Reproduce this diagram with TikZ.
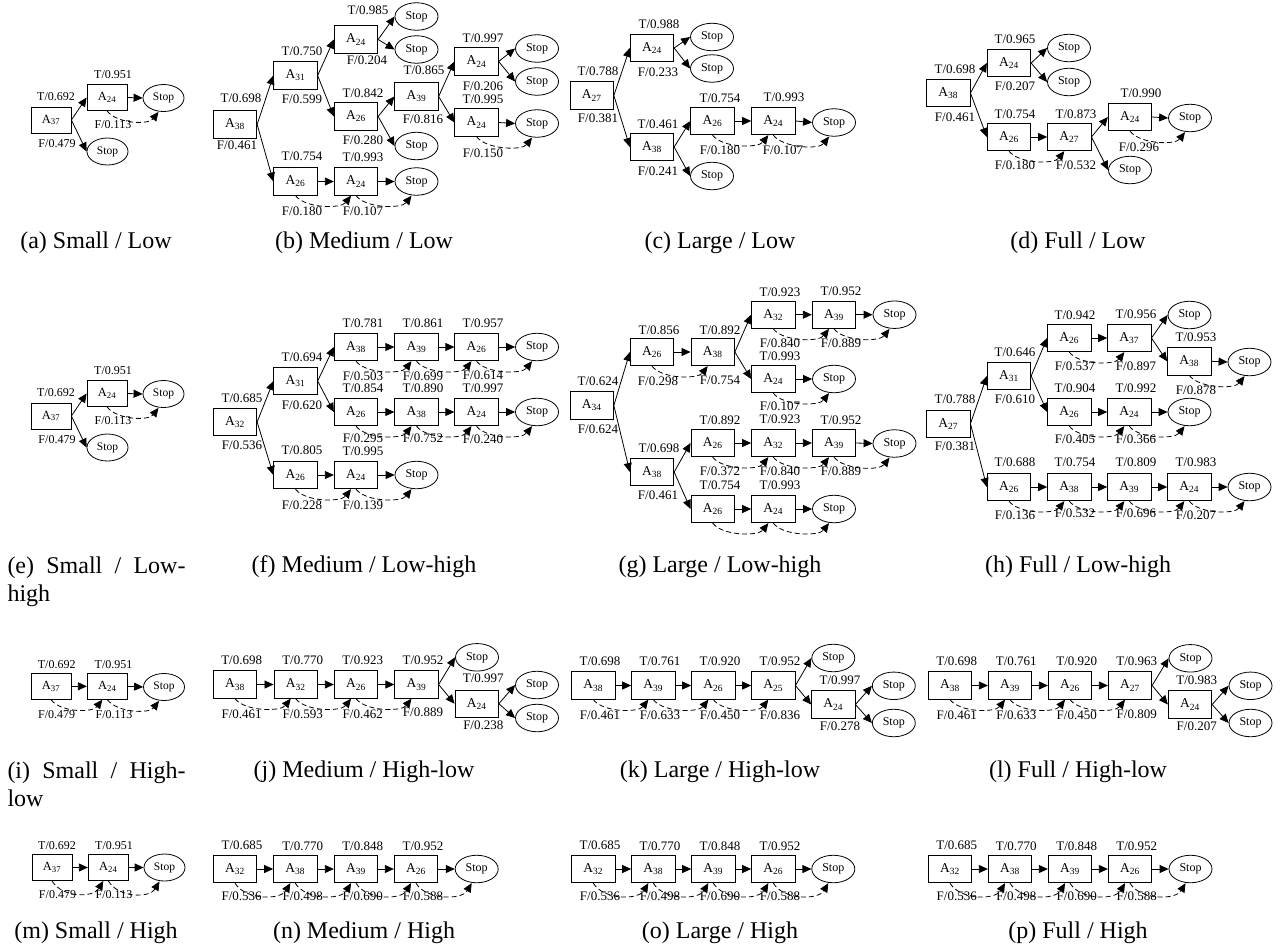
\documentclass[tikz,border=0pt]{standalone}
\usepackage{fontspec}
\setmainfont{Liberation Serif}
\usetikzlibrary{shapes.geometric,arrows.meta,calc}
\newcounter{lbn}
\tikzset{
  bx/.style={draw, line width=0.8pt, minimum width=43.5pt, minimum height=27.5pt, inner sep=0pt, font=\fontsize{13.5}{13.5}\selectfont},
  bxs/.style={bx, minimum width=40pt, minimum height=26pt, font=\fontsize{12.5}{12.5}\selectfont},
  st/.style={draw, ellipse, line width=0.8pt, minimum width=43pt, minimum height=27.5pt, inner sep=0pt, font=\fontsize{12}{12}\selectfont},
  sts/.style={st, minimum width=41pt, minimum height=27pt, font=\fontsize{11.5}{11.5}\selectfont},
  lb/.style={inner sep=0pt, font=\fontsize{13}{13}\selectfont},
  lbs/.style={inner sep=0pt, font=\fontsize{12}{12}\selectfont},
  ar/.style={-{Triangle[length=9pt,width=8pt]}, line width=0.8pt},
  fa/.style={ar, dash pattern=on 5pt off 3pt},
  captxt/.style={inner sep=0pt, font=\fontsize{24}{26}\selectfont},
}
\newcommand\LB[2]{\stepcounter{lbn}\node[lb] (lab\arabic{lbn}) at (#1) {#2};}
\newcommand\LBs[2]{\stepcounter{lbn}\node[lbs] (lab\arabic{lbn}) at (#1) {#2};}
\newcommand\A[1]{A\textsubscript{#1}}
\newcommand\E[2]{\draw[ar] (#1.east) -- (#2.west);}
\newcommand\D[2]{\draw[fa] (#1.south) .. controls +(10,13) and +(-10,13) .. ([xshift=-5pt]#2.south);}
\newcommand\DD[2]{\draw[fa] (#1.south) .. controls +(10,17) and +(-10,17) .. ([xshift=-5pt]#2.south);}
\begin{document}
\begin{tikzpicture}[x=1pt,y=-1pt]
\useasboundingbox (0,0) rectangle (1284,951);
% ---------- (a)
\node[bxs] (a1) at (51,120) {\A{37}};
\node[bxs] (a2) at (107,97.5) {\A{24}};
\node[sts] (a3) at (163.5,98) {Stop};
\node[sts] (a4) at (107.5,151.5) {Stop};
\E{a1}{a2} \E{a1}{a4} \E{a2}{a3} \D{a2}{a3}
\LBs{56,97}{T/0.692} \LBs{113,75}{T/0.951} \LBs{113,125}{F/0.113} \LBs{57,144}{F/0.479}
% ---------- (b)
\node[bx] (b1) at (235,124.5) {\A{38}};
\node[bx] (b2) at (295.5,75.5) {\A{31}};
\node[bx] (b3) at (356,39.5) {\A{24}};
\node[st] (b4) at (416.5,16.5) {Stop};
\node[st] (b5) at (416.5,49.5) {Stop};
\node[bx] (b6) at (356,116.5) {\A{26}};
\node[bx] (b7) at (416.5,96.5) {\A{39}};
\node[st] (b8) at (416.5,146) {Stop};
\node[bx] (b9) at (476.5,61.5) {\A{24}};
\node[st] (b10) at (537,48.5) {Stop};
\node[st] (b11) at (537,81.5) {Stop};
\node[bx] (b12) at (476.5,122.5) {\A{24}};
\node[st] (b13) at (537,123.5) {Stop};
\node[bx] (b14) at (295.5,181.5) {\A{26}};
\node[bx] (b15) at (356,181.5) {\A{24}};
\node[st] (b16) at (416.5,181.5) {Stop};
\E{b1}{b2} \E{b1}{b14} \E{b2}{b3} \E{b2}{b6} \E{b3}{b4} \E{b3}{b5}
\E{b6}{b7} \E{b6}{b8} \E{b7}{b9} \E{b7}{b12} \E{b9}{b10} \E{b9}{b11}
\E{b12}{b13} \D{b12}{b13} \E{b14}{b15} \D{b14}{b15} \E{b15}{b16} \D{b15}{b16}
\LB{241,98}{T/0.698} \LB{237,145}{F/0.461} \LB{302,51}{T/0.750} \LB{302,99}{F/0.599}
\LB{368,10}{T/0.985} \LB{367,60}{F/0.204} \LB{363,93}{T/0.842} \LB{363,140}{F/0.280}
\LB{424,70}{T/0.865} \LB{423,119}{F/0.816} \LB{483,38}{T/0.997} \LB{483,86}{F/0.206}
\LB{483,99}{T/0.995} \LB{483,153}{F/0.150} \LB{302,156}{T/0.754} \LB{363,157}{T/0.993}
\LB{302,211}{F/0.180} \LB{363,211}{F/0.107}
% ---------- (c)
\node[bx] (c1) at (591.7,95.5) {\A{27}};
\node[bx] (c2) at (652,48) {\A{24}};
\node[st] (c3) at (712,37) {Stop};
\node[st] (c4) at (712,68.5) {Stop};
\node[bx] (c5) at (652,147) {\A{38}};
\node[bx] (c6) at (712.5,121) {\A{26}};
\node[bx] (c7) at (773.3,121) {\A{24}};
\node[st] (c8) at (834,122.5) {Stop};
\node[st] (c9) at (712,176) {Stop};
\E{c1}{c2} \E{c1}{c5} \E{c2}{c3} \E{c2}{c4} \E{c5}{c6} \E{c5}{c9}
\E{c6}{c7} \D{c6}{c7} \E{c7}{c8} \D{c7}{c8}
\LB{659,24}{T/0.988} \LB{658,72}{F/0.233} \LB{598,71}{T/0.788} \LB{598,118}{F/0.381}
\LB{658,124}{T/0.461} \LB{658,171}{F/0.241} \LB{720,98}{T/0.754} \LB{784,97}{T/0.993}
\LB{720,150}{F/0.180} \LB{783,150}{F/0.107}
% ---------- (d)
\node[bx] (d1) at (948.3,93) {\A{38}};
\node[bx] (d2) at (1009,63) {\A{24}};
\node[st] (d3) at (1069,48) {Stop};
\node[st] (d4) at (1069,82) {Stop};
\node[bx] (d5) at (1009,137) {\A{26}};
\node[bx] (d6) at (1069.3,137) {\A{27}};
\node[bx] (d7) at (1130,117) {\A{24}};
\node[st] (d8) at (1190,118) {Stop};
\node[st] (d9) at (1130,170) {Stop};
\E{d1}{d2} \E{d1}{d5} \E{d2}{d3} \E{d2}{d4} \E{d5}{d6} \D{d5}{d6}
\E{d6}{d7} \E{d6}{d9} \E{d7}{d8} \D{d7}{d8}
\LB{1015,39}{T/0.965} \LB{1015,86}{F/0.207} \LB{955,69}{T/0.698} \LB{955,117}{F/0.461}
\LB{1015,114}{T/0.754} \LB{1076,114}{T/0.873} \LB{1141,93}{T/0.990} \LB{1139,147}{F/0.296}
\LB{1015,165}{F/0.180} \LB{1076,165}{F/0.532}
% ---------- (e)
\begin{scope}[shift={(0,296)}]
\node[bxs] (e1) at (51,120) {\A{37}};
\node[bxs] (e2) at (107,97.5) {\A{24}};
\node[sts] (e3) at (163.5,98) {Stop};
\node[sts] (e4) at (107.5,151.5) {Stop};
\E{e1}{e2} \E{e1}{e4} \E{e2}{e3} \D{e2}{e3}
\LBs{56,97}{T/0.692} \LBs{113,75}{T/0.951} \LBs{113,125}{F/0.113} \LBs{57,144}{F/0.479}
\end{scope}
% ---------- (f)
\node[bx] (f1) at (235,422) {\A{32}};
\node[bx] (f2) at (295.5,381) {\A{31}};
\node[bx] (f3) at (356,347) {\A{38}};
\node[bx] (f4) at (416.5,347) {\A{39}};
\node[bx] (f5) at (476.5,347) {\A{26}};
\node[st] (f6) at (537,347) {Stop};
\node[bx] (f7) at (356,412) {\A{26}};
\node[bx] (f8) at (416.5,412) {\A{38}};
\node[bx] (f9) at (476.5,412) {\A{24}};
\node[st] (f10) at (537,412) {Stop};
\node[bx] (f11) at (295.5,475) {\A{26}};
\node[bx] (f12) at (356,475) {\A{24}};
\node[st] (f13) at (416.5,475) {Stop};
\E{f1}{f2} \E{f1}{f11} \E{f2}{f3} \E{f2}{f7}
\E{f3}{f4} \D{f3}{f4} \E{f4}{f5} \D{f4}{f5} \E{f5}{f6} \D{f5}{f6}
\E{f7}{f8} \D{f7}{f8} \E{f8}{f9} \D{f8}{f9} \E{f9}{f10} \D{f9}{f10}
\E{f11}{f12} \D{f11}{f12} \E{f12}{f13} \D{f12}{f13}
\LB{242,398}{T/0.685} \LB{242,445.7}{F/0.536} \LB{302,357.7}{T/0.694} \LB{302,405}{F/0.620}
\LB{363,323}{T/0.781} \LB{423,323}{T/0.861} \LB{483,323}{T/0.957}
\LB{363,376}{F/0.503} \LB{423,376}{F/0.699} \LB{483,375}{F/0.614}
\LB{363,388.3}{T/0.854} \LB{423,388.3}{T/0.890} \LB{483,388.3}{T/0.997}
\LB{363,438.3}{F/0.295} \LB{423,438.3}{F/0.752} \LB{483,439}{F/0.240}
\LB{302,450}{T/0.805} \LB{363,451}{T/0.995} \LB{302,505}{F/0.228} \LB{363,505}{F/0.139}
% ---------- (g)
\node[bx] (g1) at (591.7,405.5) {\A{34}};
\node[bx] (g2) at (652,352) {\A{26}};
\node[bx] (g3) at (712.7,352) {\A{38}};
\node[bx] (g4) at (773.3,314.7) {\A{32}};
\node[bx] (g5) at (834,314.7) {\A{39}};
\node[st] (g6) at (894.5,314.7) {Stop};
\node[bx] (g7) at (773.3,379) {\A{24}};
\node[st] (g8) at (834,379) {Stop};
\node[bx] (g9) at (652,472) {\A{38}};
\node[bx] (g10) at (712.7,443) {\A{26}};
\node[bx] (g11) at (773.3,443) {\A{32}};
\node[bx] (g12) at (834,443) {\A{39}};
\node[st] (g13) at (894.5,443.5) {Stop};
\node[bx] (g14) at (712.7,509) {\A{26}};
\node[bx] (g15) at (773.3,509) {\A{24}};
\node[st] (g16) at (834,509) {Stop};
\E{g1}{g2} \E{g1}{g9} \E{g2}{g3} \D{g2}{g3} \E{g3}{g4} \E{g3}{g7}
\E{g4}{g5} \D{g4}{g5} \E{g5}{g6} \D{g5}{g6} \E{g7}{g8} \D{g7}{g8}
\E{g9}{g10} \E{g9}{g14} \E{g10}{g11} \D{g10}{g11} \E{g11}{g12} \D{g11}{g12}
\E{g12}{g13} \D{g12}{g13} \E{g14}{g15} \D{g14}{g15} \E{g15}{g16} \D{g15}{g16}
\LB{598,381.7}{T/0.624} \LB{598,429}{F/0.624} \LB{659,330}{T/0.856} \LB{720,330}{T/0.892}
\LB{658,381.7}{F/0.298} \LB{720,380}{F/0.754} \LB{780,292.7}{T/0.923} \LB{841,291.7}{T/0.952}
\LB{780,343.3}{F/0.840} \LB{841,343.3}{F/0.889} \LB{780,356.7}{T/0.993} \LB{780,406.5}{F/0.107}
\LB{720,420.7}{T/0.892} \LB{780,419.5}{T/0.923} \LB{841,420.7}{T/0.952} \LB{659,448.3}{T/0.698}
\LB{720,471.7}{F/0.372} \LB{780,471.7}{F/0.840} \LB{841,471.7}{F/0.889} \LB{658,495.7}{F/0.461}
\LB{720,485}{T/0.754} \LB{780,485}{T/0.993}
% ---------- (h)
\node[bx] (h1) at (948.3,423.7) {\A{27}};
\node[bx] (h2) at (1009,376) {\A{31}};
\node[bx] (h3) at (1069.3,338) {\A{26}};
\node[bx] (h4) at (1129.3,338) {\A{37}};
\node[st] (h5) at (1189.5,315) {Stop};
\node[bx] (h6) at (1189.3,361.3) {\A{38}};
\node[st] (h7) at (1249.5,362) {Stop};
\node[bx] (h8) at (1069.3,412) {\A{26}};
\node[bx] (h9) at (1129.3,412) {\A{24}};
\node[st] (h10) at (1189.5,412) {Stop};
\node[bx] (h11) at (1009,487) {\A{26}};
\node[bx] (h12) at (1069.3,487) {\A{38}};
\node[bx] (h13) at (1129.3,487) {\A{39}};
\node[bx] (h14) at (1189.3,487) {\A{24}};
\node[st] (h15) at (1249.5,487) {Stop};
\E{h1}{h2} \E{h1}{h11} \E{h2}{h3} \E{h2}{h8} \E{h3}{h4} \D{h3}{h4}
\E{h4}{h5} \E{h4}{h6} \E{h6}{h7} \D{h6}{h7} \E{h8}{h9} \D{h8}{h9} \E{h9}{h10} \D{h9}{h10}
\E{h11}{h12} \D{h11}{h12} \E{h12}{h13} \D{h12}{h13} \E{h13}{h14} \D{h13}{h14} \E{h14}{h15} \D{h14}{h15}
\LB{955,399.3}{T/0.788} \LB{955,446.7}{F/0.381} \LB{1015,352.7}{T/0.646} \LB{1015,399.3}{F/0.610}
\LB{1075,315}{T/0.942} \LB{1136,314.3}{T/0.956} \LB{1075,366}{F/0.537} \LB{1136,366}{F/0.897}
\LB{1196,337.7}{T/0.953} \LB{1196,390.7}{F/0.878} \LB{1075,388.3}{T/0.904} \LB{1136,388.3}{T/0.992}
\LB{1075,439.3}{F/0.405} \LB{1136,439.3}{F/0.366}
\LB{1015,462.7}{T/0.688} \LB{1075,462.7}{T/0.754} \LB{1136,462.7}{T/0.809} \LB{1196,462.7}{T/0.983}
\LB{1015,515}{F/0.136} \LB{1075,513.3}{F/0.532} \LB{1136,513.3}{F/0.696} \LB{1196,515}{F/0.207}
% ---------- (i)
\node[bxs] (i1) at (51,686.3) {\A{37}};
\node[bxs] (i2) at (107.3,686.3) {\A{24}};
\node[sts] (i3) at (164,687) {Stop};
\E{i1}{i2} \D{i1}{i2} \E{i2}{i3} \D{i2}{i3}
\LBs{56.7,665}{T/0.692} \LBs{113.5,664.3}{T/0.951} \LBs{56.7,715}{F/0.479} \LBs{114,715}{F/0.113}
% ---------- (j)
\node[bx] (j1) at (235,684.5) {\A{38}};
\node[bx] (j2) at (295.7,684.5) {\A{32}};
\node[bx] (j3) at (356,684.5) {\A{26}};
\node[bx] (j4) at (416.5,684.5) {\A{39}};
\node[st] (j5) at (477,657.3) {Stop};
\node[bx] (j6) at (476.7,703.7) {\A{24}};
\node[st] (j7) at (537,685) {Stop};
\node[st] (j8) at (537,718) {Stop};
\E{j1}{j2} \D{j1}{j2} \E{j2}{j3} \D{j2}{j3} \E{j3}{j4} \D{j3}{j4}
\E{j4}{j5} \E{j4}{j6} \E{j6}{j7} \E{j6}{j8}
\LB{241.7,660.7}{T/0.698} \LB{302.7,660.7}{T/0.770} \LB{362.7,660.7}{T/0.923} \LB{423,660.7}{T/0.952}
\LB{241.7,714}{F/0.461} \LB{302.7,714}{F/0.593} \LB{362.7,714}{F/0.462} \LB{423,712}{F/0.889}
\LB{483.3,678.3}{T/0.997} \LB{483.3,725}{F/0.238}
% ---------- (k)
\node[bx] (k1) at (593.3,685.5) {\A{38}};
\node[bx] (k2) at (653.3,685.5) {\A{39}};
\node[bx] (k3) at (713.3,685.5) {\A{26}};
\node[bx] (k4) at (773.3,685.5) {\A{25}};
\node[st] (k5) at (833.3,658) {Stop};
\node[bx] (k6) at (833.3,704.5) {\A{24}};
\node[st] (k7) at (893.8,685.8) {Stop};
\node[st] (k8) at (893.8,723) {Stop};
\E{k1}{k2} \D{k1}{k2} \E{k2}{k3} \D{k2}{k3} \E{k3}{k4} \D{k3}{k4}
\E{k4}{k5} \E{k4}{k6} \E{k6}{k7} \E{k6}{k8}
\LB{600,661.7}{T/0.698} \LB{660,661.7}{T/0.761} \LB{720,661.7}{T/0.920} \LB{780,661.7}{T/0.952}
\LB{840,680}{T/0.997} \LB{840,726.7}{F/0.278}
\LB{600,715.7}{F/0.461} \LB{660,715.7}{F/0.633} \LB{720,715.7}{F/0.450} \LB{780,715.7}{F/0.836}
% ---------- (l)
\node[bx] (l1) at (950,685.5) {\A{38}};
\node[bx] (l2) at (1010,685.5) {\A{39}};
\node[bx] (l3) at (1070,685.5) {\A{26}};
\node[bx] (l4) at (1130,685.5) {\A{27}};
\node[st] (l5) at (1190.5,658.3) {Stop};
\node[bx] (l6) at (1190,704.5) {\A{24}};
\node[st] (l7) at (1250.5,685.8) {Stop};
\node[st] (l8) at (1250.5,723) {Stop};
\E{l1}{l2} \D{l1}{l2} \E{l2}{l3} \D{l2}{l3} \E{l3}{l4} \D{l3}{l4}
\E{l4}{l5} \E{l4}{l6} \E{l6}{l7} \E{l6}{l8}
\LB{956.7,661.7}{T/0.698} \LB{1016.3,661.7}{T/0.761} \LB{1076.7,661.7}{T/0.920} \LB{1136.7,661.7}{T/0.963}
\LB{1196.7,680}{T/0.983} \LB{1196.7,726.7}{F/0.207}
\LB{956.7,715.7}{F/0.461} \LB{1016.3,715.7}{F/0.633} \LB{1076.7,715.7}{F/0.450} \LB{1136.7,714}{F/0.809}
% ---------- (m)
\node[bxs] (m1) at (52,867.5) {\A{37}};
\node[bxs] (m2) at (108.3,867.5) {\A{24}};
\node[sts] (m3) at (164.5,867.5) {Stop};
\E{m1}{m2} \DD{m1}{m2} \E{m2}{m3} \DD{m2}{m3}
\LBs{57,846}{T/0.692} \LBs{114,846}{T/0.951} \LBs{57.5,895}{F/0.479} \LBs{114,895}{F/0.113}
% ---------- (n)
\node[bx] (n1) at (235,869) {\A{32}};
\node[bx] (n2) at (295.3,869) {\A{38}};
\node[bx] (n3) at (356,869) {\A{39}};
\node[bx] (n4) at (416,869) {\A{26}};
\node[st] (n5) at (476.7,869) {Stop};
\E{n1}{n2} \DD{n1}{n2} \E{n2}{n3} \DD{n2}{n3} \E{n3}{n4} \DD{n3}{n4} \E{n4}{n5} \DD{n4}{n5}
\LB{242,845}{T/0.685} \LB{302.7,846}{T/0.770} \LB{362.7,846}{T/0.848} \LB{423,846}{T/0.952}
\LB{241.7,896}{F/0.536} \LB{302.7,896}{F/0.498} \LB{362.7,896}{F/0.690} \LB{423,896}{F/0.588}
% ---------- (o)
\node[bx] (o1) at (593.3,869) {\A{32}};
\node[bx] (o2) at (653.3,869) {\A{38}};
\node[bx] (o3) at (713.3,869) {\A{39}};
\node[bx] (o4) at (773.3,869) {\A{26}};
\node[st] (o5) at (833.3,869) {Stop};
\E{o1}{o2} \DD{o1}{o2} \E{o2}{o3} \DD{o2}{o3} \E{o3}{o4} \DD{o3}{o4} \E{o4}{o5} \DD{o4}{o5}
\LB{600,845}{T/0.685} \LB{660,846}{T/0.770} \LB{720,846}{T/0.848} \LB{780,846}{T/0.952}
\LB{600,896}{F/0.536} \LB{660,896}{F/0.498} \LB{720,896}{F/0.690} \LB{780,896}{F/0.588}
% ---------- (p)
\node[bx] (p1) at (950,869) {\A{32}};
\node[bx] (p2) at (1010,869) {\A{38}};
\node[bx] (p3) at (1070,869) {\A{39}};
\node[bx] (p4) at (1130,869) {\A{26}};
\node[st] (p5) at (1190.5,869) {Stop};
\E{p1}{p2} \DD{p1}{p2} \E{p2}{p3} \DD{p2}{p3} \E{p3}{p4} \DD{p3}{p4} \E{p4}{p5} \DD{p4}{p5}
\LB{956.7,845}{T/0.685} \LB{1016.3,846}{T/0.770} \LB{1076.7,846}{T/0.848} \LB{1136.7,846}{T/0.952}
\LB{956.7,896}{F/0.536} \LB{1016.3,896}{F/0.498} \LB{1076.7,896}{F/0.690} \LB{1136.7,896}{F/0.588}
% ---------- captions
\node[captxt] (capa) at (96,243) {(a) Small / Low};
\node[captxt] (capb) at (364,243) {(b) Medium / Low};
\node[captxt] (capc) at (720,243) {(c) Large / Low};
\node[captxt] (capd) at (1078,243) {(d) Full / Low};
\node[captxt,anchor=base west] (cape) at (7.3,573) {\makebox[178pt][s]{(e) Small / Low-}};
\node[captxt,anchor=base west] (cape2) at (7.3,601) {high};
\node[captxt] (capf) at (364,567) {(f) Medium / Low-high};
\node[captxt] (capg) at (720,567) {(g) Large / Low-high};
\node[captxt] (caph) at (1078,567) {(h) Full / Low-high};
\node[captxt,anchor=base west] (capi) at (7.3,778) {\makebox[178pt][s]{(i) Small / High-}};
\node[captxt,anchor=base west] (capi2) at (7.3,806) {low};
\node[captxt] (capj) at (364,771.7) {(j) Medium / High-low};
\node[captxt] (capk) at (720,771.7) {(k) Large / High-low};
\node[captxt] (capl) at (1078,771.7) {(l) Full / High-low};
\node[captxt] (capm) at (96,932.7) {(m) Small / High};
\node[captxt] (capn) at (364,932.7) {(n) Medium / High};
\node[captxt] (capo) at (720,932.7) {(o) Large / High};
\node[captxt] (capp) at (1078,932.7) {(p) Full / High};
\end{tikzpicture}
\end{document}
